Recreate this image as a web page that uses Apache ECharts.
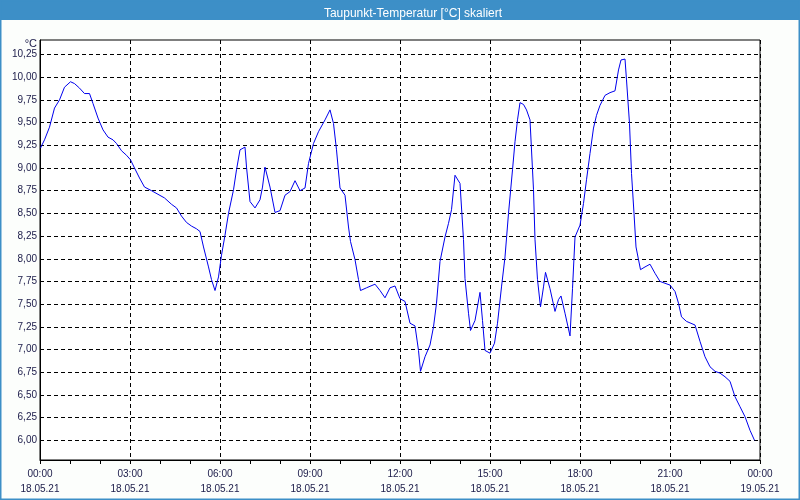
<!DOCTYPE html>
<html>
<head>
<meta charset="utf-8">
<script src="https://cdn.jsdelivr.net/npm/echarts@6/dist/echarts.min.js"></script>
<style>
html,body{margin:0;padding:0;background:#fcfefc;}
#c{width:800px;height:500px;}
</style>
</head>
<body>
<div id="c"></div>
<script>
// time in minutes since 18.05.21 00:00
const minutes = [1,9,19,29,39,49,61,69,79,89,99,106,116,126,136,146,153,163,173,181,189,199,209,223,236,249,263,273,283,293,
303,313,320,327,337,343,350,357,363,370,377,387,393,400,410,413,420,430,440,445,450,460,470,480,490,500,510,520,530,537,547,557,570,580,
587,593,600,610,617,621,630,637,641,653,670,680,690,700,710,720,730,740,750,757,761,770,780,787,793,800,810,817,823,830,840,847,850,857,861,870,
880,885,890,900,909,915,923,930,937,945,950,955,960,967,973,980,987,990,995,1001,1007,1011,1020,1030,1037,1042,1050,1060,1065,1070,1080,1087,1093,1100,1107,1113,1120,1130,1140,1150,1157,1162,1170,
1173,1179,1183,1188,1192,1197,1201,1210,1220,1230,1240,1250,1260,1270,1277,1283,1293,1310,1320,1330,1340,1350,1360,1370,1380,1390,1400,1410,1420,1429];
const values = [9.22,9.31,9.45,9.66,9.75,9.89,9.95,9.93,9.88,9.82,9.82,9.71,9.55,9.42,9.34,9.31,9.27,9.19,9.14,9.09,9.00,8.89,8.79,8.75,8.71,8.67,8.60,8.56,8.47,8.40,
8.36,8.33,8.30,8.13,7.91,7.77,7.65,7.80,8.04,8.26,8.50,8.76,8.98,9.20,9.23,9.01,8.63,8.56,8.65,8.79,9.01,8.79,8.51,8.53,8.70,8.74,8.86,8.75,8.78,9.05,9.27,9.40,9.53,9.64,
9.49,9.20,8.78,8.70,8.35,8.19,7.99,7.77,7.65,7.68,7.72,7.65,7.57,7.68,7.70,7.56,7.53,7.29,7.26,6.99,6.76,6.92,7.05,7.25,7.51,7.97,8.24,8.39,8.54,8.92,8.83,8.21,7.78,7.40,7.21,7.32,
7.63,7.32,6.99,6.96,7.07,7.29,7.69,8.02,8.50,8.98,9.29,9.53,9.72,9.70,9.64,9.53,8.76,8.21,7.77,7.47,7.69,7.85,7.67,7.42,7.55,7.59,7.40,7.15,7.67,8.24,8.37,8.61,8.87,9.16,9.44,9.58,9.69,9.80,9.83,9.85,10.08,10.19,10.20,
9.97,9.49,8.94,8.50,8.13,7.99,7.88,7.91,7.94,7.84,7.75,7.73,7.71,7.64,7.51,7.36,7.31,7.27,7.09,6.92,6.81,6.76,6.74,6.70,6.65,6.48,6.37,6.26,6.11,6.00];
const yTicks = [6.00,6.25,6.50,6.75,7.00,7.25,7.50,7.75,8.00,8.25,8.50,8.75,9.00,9.25,9.50,9.75,10.00,10.25];
const xTickLabels = ['00:00\n18.05.21','03:00\n18.05.21','06:00\n18.05.21','09:00\n18.05.21','12:00\n18.05.21','15:00\n18.05.21','18:00\n18.05.21','21:00\n18.05.21','00:00\n19.05.21'];
const titleText = 'Taupunkt-Temperatur [°C] skaliert';

const data = minutes.map((m, i) => [m, values[i]]);
const FONT = 'Liberation Sans, Arial, sans-serif';
const LABEL = '#1a1a48';
const chart = echarts.init(document.getElementById('c'), null, {renderer: 'canvas'});
chart.setOption({
  animation: false,
  backgroundColor: '#fcfefc',
  title: {
    text: titleText, left: 408, top: 3, textAlign: 'center',
    textStyle: {color: '#ffffff', fontSize: 12, fontWeight: 'normal', fontFamily: FONT}
  },
  graphic: [
    {type: 'rect', z: -1, shape: {x: 0, y: 0, width: 800, height: 20}, style: {fill: '#3d8fc7'}},
    {type: 'rect', z: -1, shape: {x: 0.5, y: 0.5, width: 799, height: 499}, style: {fill: null, stroke: '#3d8fc7', lineWidth: 2}}
  ],
  grid: {left: 40, right: 40, top: 40, bottom: 40, show: true, backgroundColor: '#ffffff', borderColor: '#000', borderWidth: 1},
  xAxis: {
    type: 'value', min: 0, max: 1440, interval: 180,
    axisLine: {show: true, lineStyle: {color: '#000', width: 1}},
    axisTick: {show: true, length: 4, inside: false, lineStyle: {color: '#000'}},
    minorTick: {show: true, splitNumber: 3, length: 4, lineStyle: {color: '#000'}},
    splitLine: {show: true, lineStyle: {color: '#000', type: [4, 3], width: 1}},
    axisLabel: {
      margin: 7, color: LABEL, fontSize: 10, fontFamily: FONT, lineHeight: 15,
      showMinLabel: true, showMaxLabel: true,
      formatter: v => xTickLabels[Math.round(v / 180)]
    }
  },
  yAxis: {
    type: 'value', min: 5.783, max: 10.41,
    name: '°C', nameLocation: 'end', nameGap: -5,
    nameTextStyle: {color: LABEL, fontSize: 11, fontFamily: FONT, align: 'right', verticalAlign: 'middle', padding: [0, 3, 0, 0]},
    axisLine: {show: true, lineStyle: {color: '#000', width: 1}},
    axisTick: {show: false, customValues: yTicks},
    splitLine: {show: true, lineStyle: {color: '#000', type: [4, 3], width: 1}},
    axisLabel: {
      customValues: yTicks, margin: 3, color: LABEL, fontSize: 10, fontFamily: FONT,
      formatter: v => v.toFixed(2).replace('.', ',')
    }
  },
  series: [{
    type: 'line', data: data, showSymbol: false, symbol: 'none',
    lineStyle: {color: '#0000ee', width: 1}, clip: true
  }]
});
</script>
</body>
</html>
